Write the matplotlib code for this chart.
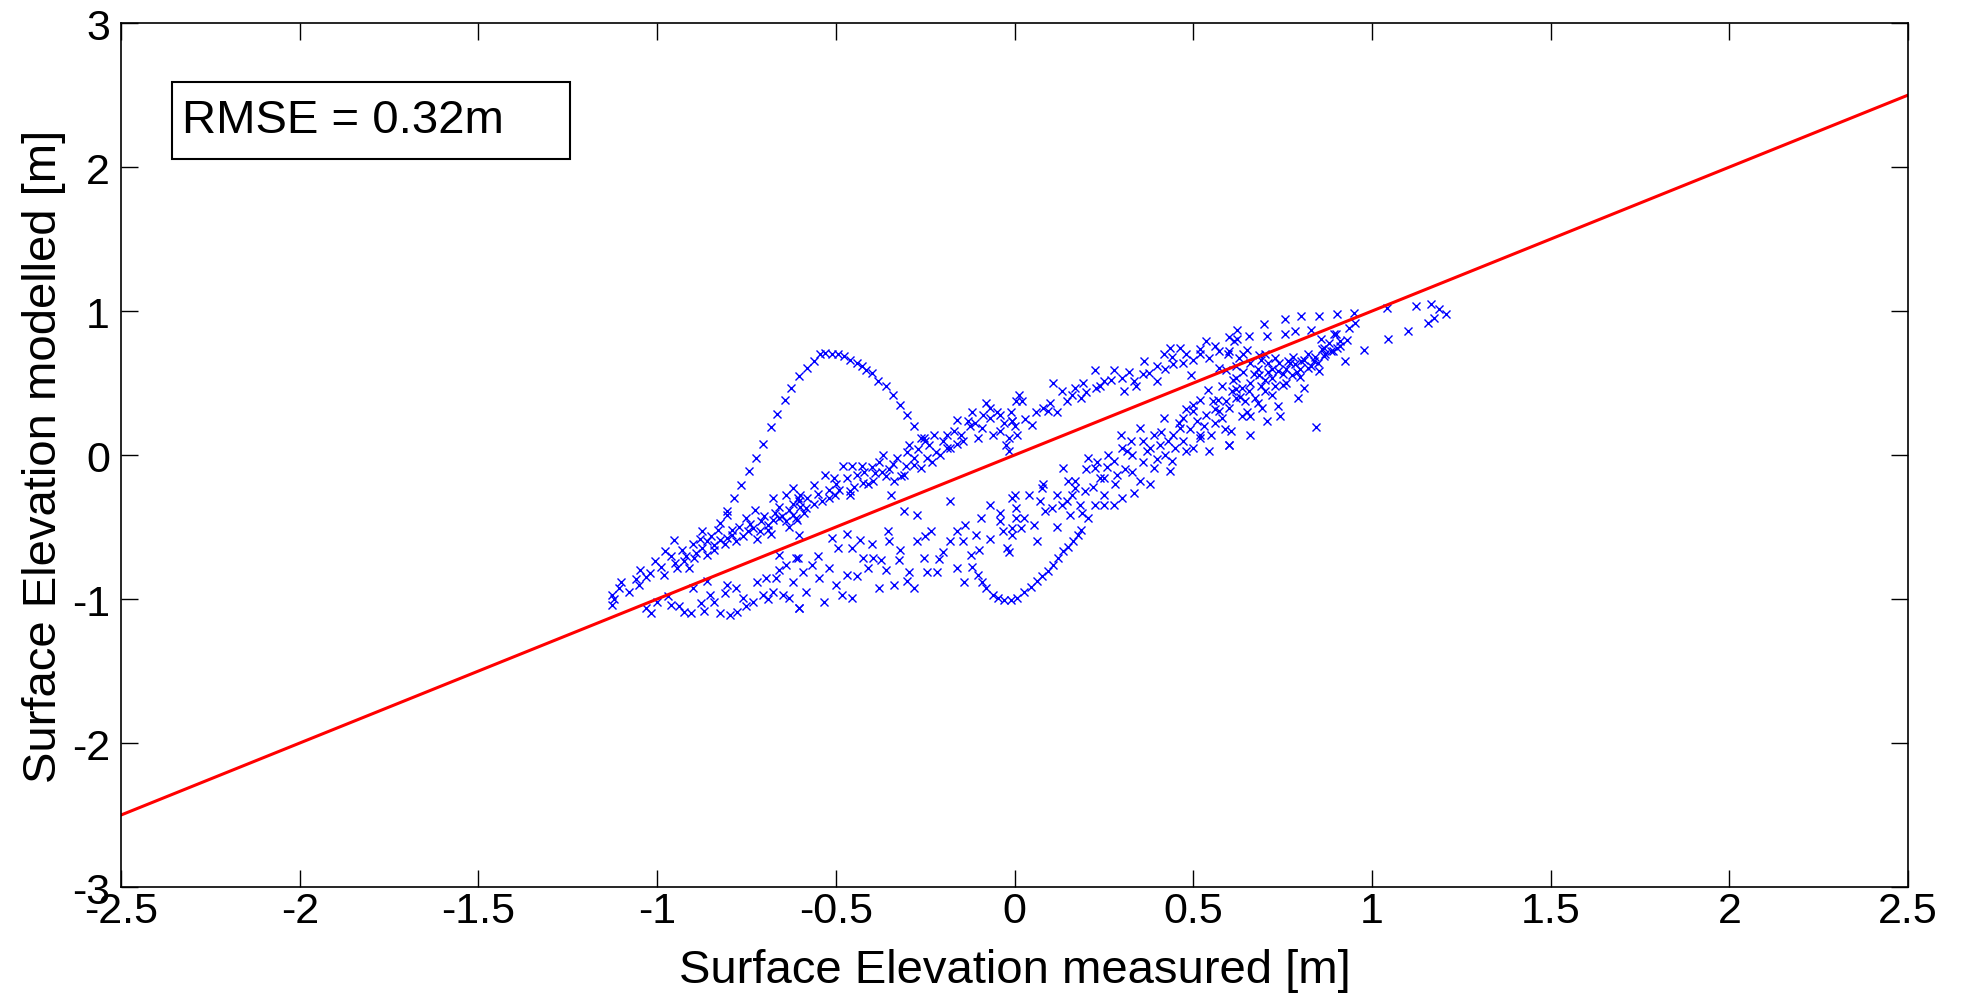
import matplotlib
matplotlib.use("Agg")
import matplotlib.pyplot as plt
from matplotlib.patches import Rectangle

plt.rcParams['font.family'] = ['Liberation Sans', 'DejaVu Sans']
plt.rcParams['axes.unicode_minus'] = False

# 1:1 reference line
line_x = [-2.5, 2.5]
line_y = [-2.5, 2.5]

# hump of points left of zero
hump_x = [-0.805, -0.784, -0.765, -0.743, -0.723, -0.704, -0.682, -0.664, -0.643, -0.624,
          -0.603, -0.580, -0.561, -0.543, -0.529, -0.511, -0.493, -0.476, -0.460, -0.442,
          -0.428, -0.415, -0.398, -0.381, -0.360, -0.341, -0.320, -0.300, -0.282, -0.262]
hump_y = [-0.387, -0.298, -0.210, -0.113, -0.020, 0.077, 0.193, 0.288, 0.381, 0.467,
          0.548, 0.606, 0.652, 0.699, 0.710, 0.699, 0.699, 0.687, 0.657, 0.641,
          0.617, 0.594, 0.571, 0.513, 0.478, 0.416, 0.346, 0.281, 0.200, 0.120]

# trough around zero
trough_x = [-0.120, -0.102, -0.090, -0.079, -0.061, -0.047, -0.029, -0.011, 0.008, 0.026,
            0.045, 0.063, 0.077, 0.095, 0.109, 0.123, 0.137, 0.150, 0.164, 0.178, 0.187]
trough_y = [-0.780, -0.832, -0.880, -0.925, -0.971, -0.994, -1.006, -1.006, -0.994, -0.948,
            -0.913, -0.878, -0.843, -0.804, -0.762, -0.716, -0.669, -0.635, -0.595, -0.554, -0.519]

# left part, upper band
r1u_x = [-1.126, -1.108, -1.048, -1.007, -0.979, -0.952, -0.943, -0.924, -0.910, -0.897,
         -0.874, -0.860, -0.842, -0.823, -0.805, -0.791, -0.745, -0.731, -0.713, -0.690,
         -0.676, -0.658, -0.640, -0.621, -0.603, -0.640, -0.676, -0.727, -0.805, -0.823,
         -0.874, -1.100, -1.080, -1.120, -1.060, -1.020, -0.990, -0.960, -0.930, -0.900,
         -0.880, -0.850, -0.830, -0.770, -0.750, -0.700, -0.660, -0.620, -0.600, -0.780,
         -0.720, -0.680, -0.630, -0.610]
r1u_y = [-0.971, -0.925, -0.797, -0.739, -0.669, -0.588, -0.785, -0.739, -0.785, -0.716,
         -0.646, -0.693, -0.623, -0.588, -0.577, -0.554, -0.530, -0.507, -0.530, -0.484,
         -0.449, -0.438, -0.461, -0.414, -0.322, -0.275, -0.298, -0.380, -0.414, -0.472,
         -0.530, -0.880, -0.950, -1.000, -0.860, -0.820, -0.780, -0.700, -0.660, -0.620,
         -0.580, -0.560, -0.520, -0.500, -0.440, -0.420, -0.360, -0.340, -0.280, -0.600,
         -0.580, -0.550, -0.500, -0.450]
ul_x = [-1.05, -1.03, -0.98, -0.95, -0.92, -0.89, -0.86, -0.84, -0.81, -0.79,
        -0.76, -0.74, -0.71, -0.69, -0.67, -0.65, -0.63, -0.59]
ul_y = [-0.90, -0.85, -0.83, -0.75, -0.70, -0.68, -0.60, -0.66, -0.62, -0.52,
        -0.56, -0.48, -0.46, -0.52, -0.40, -0.42, -0.38, -0.40]

# left part, lower band
r1l_x = [-0.961, -0.924, -0.906, -0.878, -0.851, -0.823, -0.796, -0.777, -0.759, -0.731,
         -0.695, -0.676, -0.649, -0.630, -0.603, -0.667, -0.640, -0.612, -0.658, -0.704,
         -0.805, -0.860, -1.126, -1.030, -1.016]
r1l_y = [-1.040, -1.087, -1.098, -1.029, -0.971, -1.098, -1.110, -1.087, -0.994, -1.017,
         -0.855, -0.948, -0.971, -0.994, -1.064, -0.855, -0.762, -0.716, -0.693, -0.971,
         -0.901, -0.878, -1.040, -1.064, -1.098]
ll_x = [-1.00, -0.97, -0.94, -0.90, -0.87, -0.84, -0.81, -0.78, -0.75, -0.72, -0.69, -0.66, -0.62]
ll_y = [-1.02, -0.98, -1.05, -0.92, -1.08, -1.02, -0.96, -0.92, -1.05, -0.88, -1.00, -0.80, -0.88]

# centre-left, upper band
r2u_x = [-0.621, -0.607, -0.584, -0.561, -0.538, -0.529, -0.506, -0.502, -0.479, -0.460,
         -0.456, -0.428, -0.424, -0.396, -0.391, -0.369, -0.360, -0.346, -0.337, -0.318,
         -0.304, -0.295, -0.281, -0.263, -0.254, -0.245, -0.226, -0.208, -0.189, -0.180,
         -0.162, -0.144, -0.125, -0.102, -0.088, -0.070, -0.061, -0.042, -0.024, -0.006,
         0.003, -0.015,
         -0.60, -0.58, -0.56, -0.55, -0.52, -0.50, -0.47, -0.45, -0.42, -0.40,
         -0.38, -0.35, -0.33, -0.30, -0.27, -0.24, -0.22, -0.20, -0.17, -0.15,
         -0.13, -0.11, -0.09, -0.07, -0.05, -0.03, -0.01]
r2u_y = [-0.229, -0.299, -0.368, -0.206, -0.322, -0.136, -0.159, -0.275, -0.078, -0.252,
         -0.078, -0.078, -0.194, -0.183, -0.125, 0.003, -0.148, -0.275, -0.183, -0.148,
         -0.078, 0.073, -0.067, -0.090, 0.119, -0.020, 0.142, 0.003, 0.142, 0.049,
         0.246, 0.096, 0.200, 0.119, 0.281, 0.328, 0.142, 0.165, 0.073, 0.235,
         0.374, 0.119,
         -0.36, -0.30, -0.34, -0.27, -0.24, -0.20, -0.16, -0.22, -0.12, -0.08,
         -0.05, -0.10, -0.02, 0.02, 0.04, 0.07, 0.02, 0.10, 0.17, 0.14,
         0.24, 0.22, 0.19, 0.26, 0.30, 0.22, 0.30]
mu_x = [-0.52, -0.49, -0.46, -0.44, -0.41, -0.37, -0.34, -0.31, -0.28, -0.25,
        -0.23, -0.19, -0.16, -0.12, -0.08, -0.04]
mu_y = [-0.30, -0.24, -0.28, -0.14, -0.20, -0.12, -0.06, -0.14, -0.02, 0.10,
        -0.05, 0.05, 0.08, 0.30, 0.36, 0.28]

# centre-left, lower band
r2l_x = [-0.612, -0.603, -0.607, -0.593, -0.584, -0.603, -0.566, -0.547, -0.534, -0.520,
         -0.511, -0.493, -0.483, -0.470, -0.456, -0.456, -0.433, -0.424, -0.410, -0.396,
         -0.378, -0.373, -0.355, -0.350, -0.336, -0.323, -0.309, -0.300, -0.295, -0.272,
         -0.272, -0.254, -0.245, -0.235, -0.217, -0.199, -0.180, -0.162, -0.162, -0.144,
         -0.139, -0.121, -0.107, -0.093, -0.070, -0.042, -0.033, -0.020, -0.006, 0.000, 0.003]
r2l_y = [-0.438, -0.554, -0.716, -0.809, -0.948, -1.064, -0.762, -0.855, -1.017, -0.785,
         -0.577, -0.647, -0.971, -0.832, -0.994, -0.647, -0.588, -0.716, -0.785, -0.716,
         -0.925, -0.728, -0.530, -0.600, -0.901, -0.728, -0.391, -0.878, -0.809, -0.415,
         -0.600, -0.716, -0.809, -0.530, -0.809, -0.670, -0.322, -0.785, -0.530, -0.600,
         -0.484, -0.693, -0.554, -0.438, -0.345, -0.461, -0.530, -0.646, -0.507, -0.276, -0.438]
ml_x = [-0.55, -0.50, -0.47, -0.44, -0.40, -0.36, -0.32, -0.28, -0.25, -0.21,
        -0.18, -0.14, -0.10, -0.07, -0.04]
ml_y = [-0.70, -0.90, -0.55, -0.84, -0.62, -0.80, -0.66, -0.92, -0.56, -0.72,
        -0.60, -0.88, -0.66, -0.58, -0.40]

# centre-right, upper band
r3u_x = [0.013, 0.022, -0.006, 0.008, 0.049, 0.081, 0.095, 0.109, 0.132, 0.146,
         0.169, 0.187, 0.192, 0.224, 0.228, 0.251, 0.279, 0.302, 0.306, 0.334,
         0.361, 0.375, 0.398, 0.417, 0.435, 0.444, 0.462, 0.472, 0.495, 0.518,
         0.536, 0.545, 0.573, 0.596, 0.614, 0.573,
         0.00, 0.03, 0.06, 0.10, 0.12, 0.16, 0.20, 0.24, 0.27, 0.32,
         0.36, 0.40, 0.44, 0.48, 0.52, 0.56, 0.60, 0.50, 0.42, 0.34]
r3u_y = [0.420, 0.374, 0.235, 0.142, 0.212, 0.327, 0.304, 0.501, 0.443, 0.374,
         0.467, 0.397, 0.501, 0.594, 0.467, 0.513, 0.594, 0.536, 0.443, 0.513,
         0.652, 0.571, 0.513, 0.699, 0.745, 0.629, 0.745, 0.641, 0.559, 0.699,
         0.791, 0.675, 0.722, 0.699, 0.791, 0.606,
         0.20, 0.25, 0.30, 0.36, 0.30, 0.42, 0.44, 0.48, 0.52, 0.58,
         0.56, 0.62, 0.68, 0.70, 0.74, 0.76, 0.82, 0.66, 0.60, 0.48]

# centre-right, lower band
r3l_x = [-0.015, 0.077, 0.137, 0.150, 0.169, 0.205, 0.224, 0.238, 0.251, 0.261,
         0.279, 0.288, 0.297, 0.316, 0.325, 0.334, 0.352, 0.352, 0.371, 0.389,
         0.389, 0.407, 0.417, 0.435, 0.444, 0.462, 0.472, 0.481, 0.499, 0.518,
         0.536, 0.545, 0.554, 0.573, 0.591, 0.600, 0.609,
         -0.006, 0.003, 0.026, 0.040, 0.054, 0.063, 0.072, 0.086, 0.104, 0.118,
         0.132, 0.146, 0.155, 0.169, 0.182, 0.196, 0.205, 0.224, 0.251, 0.279,
         -0.006, -0.015, 0.017,
         0.20, 0.23, 0.26, 0.30, 0.33, 0.36, 0.38, 0.41, 0.43, 0.46,
         0.49, 0.51, 0.53, 0.56, 0.58, 0.45, 0.40, 0.31, 0.50, 0.55]
r3l_y = [0.026, -0.229, -0.090, -0.183, -0.229, -0.020, -0.090, -0.159, -0.159, 0.003,
         -0.044, -0.136, 0.142, 0.026, 0.096, -0.264, 0.189, -0.183, 0.026, 0.142,
         -0.090, 0.072, 0.258, -0.113, 0.142, 0.189, 0.258, 0.026, 0.304, 0.142,
         0.281, 0.026, 0.374, 0.304, 0.374, 0.072, 0.443,
         -0.299, -0.368, -0.438, -0.276, -0.484, -0.600, -0.322, -0.391, -0.368, -0.275,
         -0.345, -0.322, -0.415, -0.183, -0.345, -0.252, -0.438, -0.345, -0.345, -0.345,
         -0.554, -0.670, -0.507,
         -0.10, -0.05, -0.08, 0.05, 0.00, 0.10, 0.05, 0.16, 0.10, 0.22,
         0.18, 0.24, 0.20, 0.32, 0.26, 0.05, -0.03, -0.10, 0.35, 0.14]
lr_x = [0.08, 0.12, 0.16, 0.19, 0.22, 0.25, 0.28, 0.30, 0.33, 0.36,
        0.38, 0.42, 0.44, 0.47, 0.50, 0.52, 0.56, 0.59]
lr_y = [-0.20, -0.50, -0.28, -0.40, -0.22, -0.28, -0.20, -0.30, -0.12, -0.05,
        -0.20, 0.00, -0.04, 0.10, 0.05, 0.12, 0.22, 0.18]

# right part (upper band, outliers, dense cluster)
r4_x = [0.623, 0.655, 0.697, 0.706, 0.756, 0.756, 0.802, 0.853, 0.903, 0.949,
        0.954, 0.784, 0.830, 0.857, 0.894, 0.935, 0.623, 0.651,
        1.041, 1.124, 1.165, 1.188, 1.206, 1.174, 1.156, 1.101, 1.046, 0.977,
        0.926, 0.844,
        0.591, 0.619, 0.637, 0.655, 0.674, 0.646, 0.619, 0.600, 0.683, 0.710,
        0.729, 0.738, 0.752, 0.765, 0.784, 0.802, 0.821, 0.839, 0.853, 0.866,
        0.885, 0.903, 0.912, 0.866, 0.811, 0.793, 0.775, 0.701, 0.738, 0.743,
        0.706, 0.660, 0.637, 0.660, 0.605, 0.600, 0.692, 0.720, 0.628, 0.600, 0.683,
        0.62, 0.64, 0.66, 0.68, 0.70, 0.72, 0.74, 0.76, 0.78, 0.80,
        0.82, 0.84, 0.86, 0.88, 0.90, 0.70, 0.66, 0.62, 0.68, 0.72, 0.76, 0.80]
r4_y = [0.872, 0.826, 0.907, 0.826, 0.942, 0.838, 0.965, 0.965, 0.977, 0.988,
        0.919, 0.861, 0.872, 0.803, 0.838, 0.884, 0.803, 0.733,
        1.023, 1.035, 1.046, 1.012, 0.977, 0.954, 0.919, 0.861, 0.803, 0.733,
        0.652, 0.193,
        0.594, 0.536, 0.467, 0.443, 0.397, 0.374, 0.397, 0.327, 0.559, 0.641,
        0.675, 0.583, 0.490, 0.652, 0.629, 0.652, 0.606, 0.652, 0.583, 0.687,
        0.722, 0.745, 0.791, 0.745, 0.467, 0.397, 0.559, 0.443, 0.339, 0.270,
        0.235, 0.270, 0.270, 0.142, 0.165, 0.072, 0.327, 0.536, 0.675, 0.722, 0.698,
        0.62, 0.58, 0.64, 0.60, 0.52, 0.60, 0.64, 0.60, 0.68, 0.60,
        0.70, 0.68, 0.74, 0.78, 0.84, 0.70, 0.50, 0.46, 0.36, 0.42, 0.50, 0.54]
rd_x = [0.61, 0.63, 0.65, 0.67, 0.69, 0.71, 0.73, 0.75, 0.77, 0.79,
        0.81, 0.83, 0.85, 0.87, 0.89, 0.91, 0.93, 0.69, 0.64, 0.58,
        0.57, 0.54, 0.52, 0.48]
rd_y = [0.52, 0.40, 0.30, 0.56, 0.48, 0.58, 0.48, 0.56, 0.64, 0.58,
        0.66, 0.62, 0.64, 0.70, 0.72, 0.76, 0.80, 0.66, 0.70, 0.48,
        0.38, 0.45, 0.38, 0.32]

rmse_text = 'RMSE = 0.32m'

groups = [(hump_x, hump_y), (trough_x, trough_y), (r1u_x, r1u_y), (ul_x, ul_y),
          (r1l_x, r1l_y), (ll_x, ll_y), (r2u_x, r2u_y), (mu_x, mu_y),
          (r2l_x, r2l_y), (ml_x, ml_y), (r3u_x, r3u_y), (r3l_x, r3l_y),
          (lr_x, lr_y), (r4_x, r4_y), (rd_x, rd_y)]
for gx, gy in groups:
    assert len(gx) == len(gy)

fig = plt.figure(figsize=(19.61, 10.04), dpi=100)
ax = fig.add_axes([0.0617, 0.1155, 0.9113, 0.8605])

for gx, gy in groups:
    ax.plot(gx, gy, 'x', color='blue', markersize=6, markeredgewidth=1.0)
ax.plot(line_x, line_y, '-', color='red', linewidth=2.2)

ax.set_xlim(-2.5, 2.5)
ax.set_ylim(-3, 3)
ax.set_xticks([-2.5, -2, -1.5, -1, -0.5, 0, 0.5, 1, 1.5, 2, 2.5])
ax.set_xticklabels(['-2.5', '-2', '-1.5', '-1', '-0.5', '0', '0.5', '1', '1.5', '2', '2.5'])
ax.set_yticks([-3, -2, -1, 0, 1, 2, 3])
ax.tick_params(direction='in', top=True, right=True, length=12, width=1,
               labelsize=31)
ax.tick_params(axis='x', pad=3)
ax.tick_params(axis='y', pad=8)
for s in ax.spines.values():
    s.set_linewidth(1.2)

ax.set_xlabel('Surface Elevation measured [m]', fontsize=34, labelpad=12)
ax.set_ylabel('Surface Elevation modelled [m]', fontsize=34, labelpad=4)

# text box in the upper left
ax.add_patch(Rectangle((-2.356, 2.056), 1.112, 0.538, fill=False,
                       edgecolor='black', linewidth=1.5, zorder=5))
ax.text(-2.33, 2.33, rmse_text, fontsize=34, va='center', ha='left', zorder=6)

fig.savefig('out.png', dpi=100)
